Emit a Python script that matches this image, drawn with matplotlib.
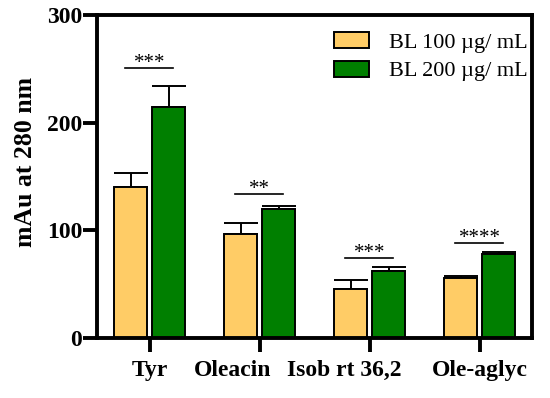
import numpy as np
import matplotlib.pyplot as plt
from matplotlib.transforms import ScaledTranslation

categories = ["Tyr", "Oleacin", "Isob rt 36,2", "Ole-aglyc"]
bl100 = [140, 96.5, 45, 55.5]
bl100_err = [13, 10, 9, 2]
bl200 = [215, 120, 62.5, 78]
bl200_err = [19, 2.5, 3.5, 1.5]
stars = ["***", "**", "***", "****"]
star_y = [251, 134, 74, 88]

plt.rcParams['font.family'] = ['Liberation Serif', 'DejaVu Serif']

fig, ax = plt.subplots(figsize=(5.5, 3.98), dpi=100)
fig.subplots_adjust(left=0.177, right=0.968, top=0.962, bottom=0.151)

x = np.arange(len(categories))
w = 0.3
off = 0.172
ax.bar(x - off, bl100, w, color="#FFCC66", edgecolor="black", linewidth=1.4,
       label="BL 100 \u00b5g/ mL", zorder=2)
ax.bar(x + off, bl200, w, color="#007F00", edgecolor="black", linewidth=1.4,
       label="BL 200 \u00b5g/ mL", zorder=2)
ax.errorbar(x - off, bl100, yerr=[np.zeros(4), bl100_err], fmt="none",
            ecolor="black", elinewidth=1.4, capsize=12, capthick=1.4, zorder=1)
ax.errorbar(x + off, bl200, yerr=[np.zeros(4), bl200_err], fmt="none",
            ecolor="black", elinewidth=1.4, capsize=12, capthick=1.4, zorder=1)

for i in range(len(categories)):
    ax.plot([x[i] - 0.22, x[i] + 0.21], [star_y[i], star_y[i]], color="black", lw=1.2)
    ax.text(x[i], star_y[i], stars[i], ha="center", va="baseline", fontsize=15)

ax.set_xlim(-0.475, 3.48)
ax.set_ylim(0, 300)
ax.set_yticks([0, 100, 200, 300])
ax.set_xticks(x)
ax.set_xticklabels(categories, fontsize=17, fontweight="bold")
ax.tick_params(axis="y", labelsize=17, width=2.8, length=10, pad=1)
ax.tick_params(axis="x", width=2.8, length=10, pad=6)
for lab in ax.get_yticklabels():
    lab.set_fontweight("bold")
# the middle two labels sit left of their ticks in the original
shifts = [0, -0.27, -0.25, 0]
for lab, dx in zip(ax.get_xticklabels(), shifts):
    lab.set_transform(lab.get_transform() + ScaledTranslation(dx, 0, fig.dpi_scale_trans))
for s in ax.spines.values():
    s.set_linewidth(2.8)
ax.set_ylabel("mAu at 280 nm", fontsize=18.5, fontweight="bold")
ax.yaxis.set_label_coords(-0.138, 0.545)

ax.legend(loc="upper right", bbox_to_anchor=(1.0, 0.962), frameon=False, fontsize=16,
          handlelength=1.6, handleheight=0.75, borderaxespad=0, borderpad=0.2,
          labelspacing=0.35, handletextpad=0.9)

fig.savefig("out.png", dpi=100)
